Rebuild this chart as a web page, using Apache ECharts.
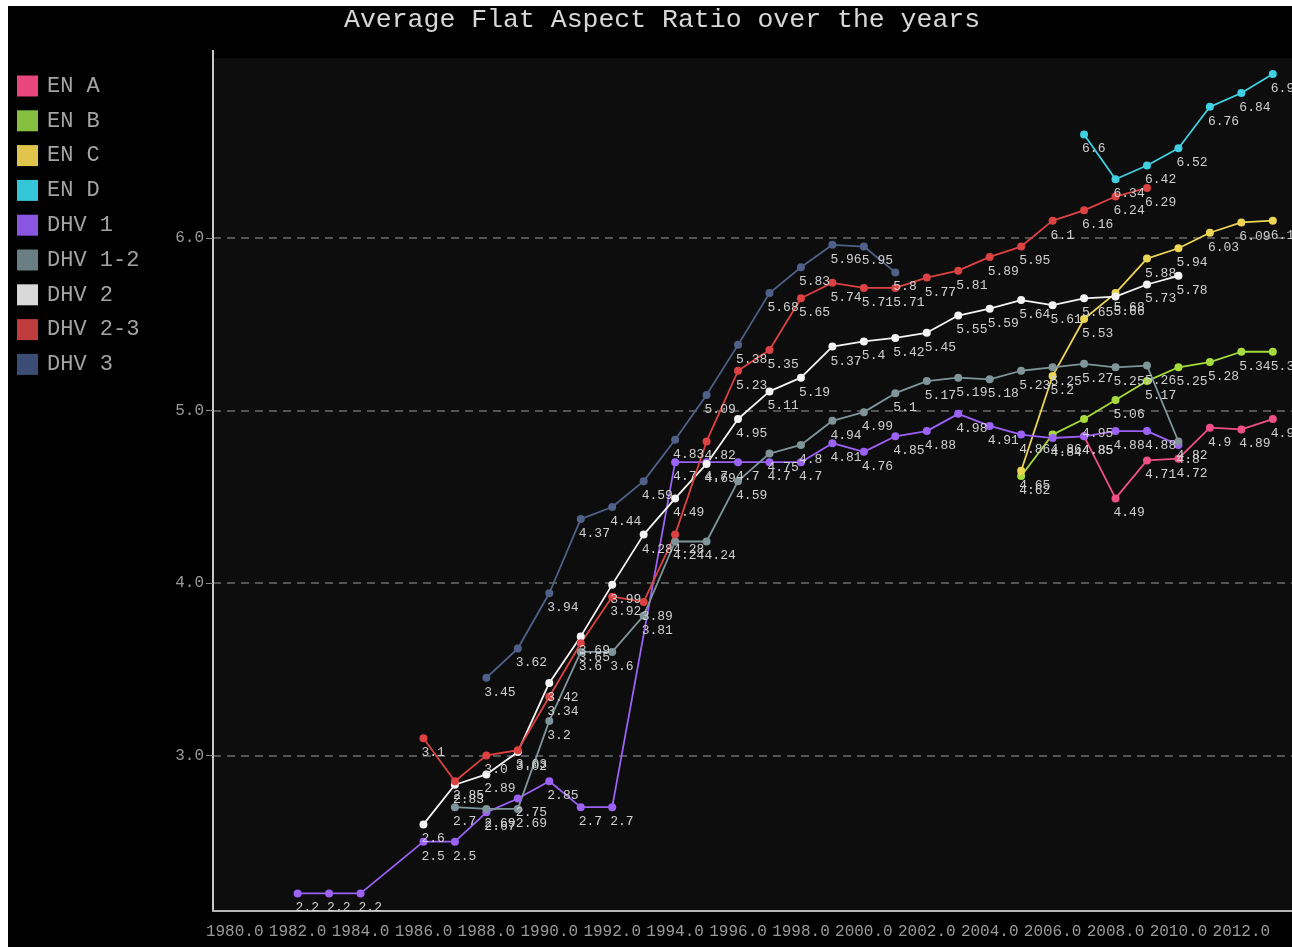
<!DOCTYPE html>
<html>
<head>
<meta charset="utf-8">
<script src="https://cdn.jsdelivr.net/npm/echarts@6/dist/echarts.min.js"></script>
<style>
  html, body { margin: 0; padding: 0; background: #ffffff; }
  #chart { position: absolute; left: 8px; top: 6px; width: 1284px; height: 941px; }
</style>
</head>
<body>
<div id="chart"></div>
<script>
// Average flat aspect ratio per certification class, by year
const titleText = 'Average Flat Aspect Ratio over the years';

const enAYears = [2007, 2008, 2009, 2010, 2011, 2012, 2013];
const enAValues = [4.85, 4.49, 4.71, 4.72, 4.9, 4.89, 4.95];

const enBYears = [2005, 2006, 2007, 2008, 2009, 2010, 2011, 2012, 2013];
const enBValues = [4.62, 4.86, 4.95, 5.06, 5.17, 5.25, 5.28, 5.34, 5.34];

const enCYears = [2005, 2006, 2007, 2008, 2009, 2010, 2011, 2012, 2013];
const enCValues = [4.65, 5.2, 5.53, 5.68, 5.88, 5.94, 6.03, 6.09, 6.1];

const enDYears = [2007, 2008, 2009, 2010, 2011, 2012, 2013];
const enDValues = [6.6, 6.34, 6.42, 6.52, 6.76, 6.84, 6.95];

const dhv1Years = [1982, 1983, 1984, 1986, 1987, 1988, 1989, 1990, 1991, 1992, 1994, 1995, 1996, 1997, 1998, 1999, 2000, 2001, 2002, 2003, 2004, 2005, 2006, 2007, 2008, 2009, 2010];
const dhv1Values = [2.2, 2.2, 2.2, 2.5, 2.5, 2.67, 2.75, 2.85, 2.7, 2.7, 4.7, 4.7, 4.7, 4.7, 4.7, 4.81, 4.76, 4.85, 4.88, 4.98, 4.91, 4.86, 4.84, 4.85, 4.88, 4.88, 4.8];

const dhv12Years = [1987, 1988, 1989, 1990, 1991, 1992, 1993, 1994, 1995, 1996, 1997, 1998, 1999, 2000, 2001, 2002, 2003, 2004, 2005, 2006, 2007, 2008, 2009, 2010];
const dhv12Values = [2.7, 2.69, 2.69, 3.2, 3.6, 3.6, 3.81, 4.24, 4.24, 4.59, 4.75, 4.8, 4.94, 4.99, 5.1, 5.17, 5.19, 5.18, 5.23, 5.25, 5.27, 5.25, 5.26, 4.82];

const dhv2Years = [1986, 1987, 1988, 1989, 1990, 1991, 1992, 1993, 1994, 1995, 1996, 1997, 1998, 1999, 2000, 2001, 2002, 2003, 2004, 2005, 2006, 2007, 2008, 2009, 2010];
const dhv2Values = [2.6, 2.83, 2.89, 3.02, 3.42, 3.69, 3.99, 4.28, 4.49, 4.69, 4.95, 5.11, 5.19, 5.37, 5.4, 5.42, 5.45, 5.55, 5.59, 5.64, 5.61, 5.65, 5.66, 5.73, 5.78];

const dhv23Years = [1986, 1987, 1988, 1989, 1990, 1991, 1992, 1993, 1994, 1995, 1996, 1997, 1998, 1999, 2000, 2001, 2002, 2003, 2004, 2005, 2006, 2007, 2008, 2009];
const dhv23Values = [3.1, 2.85, 3.0, 3.03, 3.34, 3.65, 3.92, 3.89, 4.28, 4.82, 5.23, 5.35, 5.65, 5.74, 5.71, 5.71, 5.77, 5.81, 5.89, 5.95, 6.1, 6.16, 6.24, 6.29];

const dhv3Years = [1988, 1989, 1990, 1991, 1992, 1993, 1994, 1995, 1996, 1997, 1998, 1999, 2000, 2001];
const dhv3Values = [3.45, 3.62, 3.94, 4.37, 4.44, 4.59, 4.83, 5.09, 5.38, 5.68, 5.83, 5.96, 5.95, 5.8];

const xTickYears = [1980, 1982, 1984, 1986, 1988, 1990, 1992, 1994, 1996, 1998, 2000, 2002, 2004, 2006, 2008, 2010, 2012];
const yTickValues = [3, 4, 5, 6];

const seriesList = [
  { name: 'EN A',    years: enAYears,   values: enAValues,   line: '#ee4f86', key: '#e8467c' },
  { name: 'EN B',    years: enBYears,   values: enBValues,   line: '#a5dc3c', key: '#86c040' },
  { name: 'EN C',    years: enCYears,   values: enCValues,   line: '#ecd552', key: '#e0c44c' },
  { name: 'EN D',    years: enDYears,   values: enDValues,   line: '#40d0e2', key: '#34c6d6' },
  { name: 'DHV 1',   years: dhv1Years,  values: dhv1Values,  line: '#9b62f5', key: '#8a55e0' },
  { name: 'DHV 1-2', years: dhv12Years, values: dhv12Values, line: '#7f9599', key: '#6a7f83' },
  { name: 'DHV 2',   years: dhv2Years,  values: dhv2Values,  line: '#f4f4f4', key: '#d8d8d8' },
  { name: 'DHV 2-3', years: dhv23Years, values: dhv23Values, line: '#dc4242', key: '#c03c3c' },
  { name: 'DHV 3',   years: dhv3Years,  values: dhv3Values,  line: '#4f6189', key: '#3b4d75' }
];

const monoFont = '"Liberation Mono", "DejaVu Sans Mono", monospace';

function fmtValue(v) {
  return Number.isInteger(v) ? v.toFixed(1) : String(v);
}

const chart = echarts.init(document.getElementById('chart'), null, { renderer: 'canvas' });

chart.setOption({
  animation: false,
  backgroundColor: '#000000',
  title: {
    text: titleText,
    left: 336,
    top: 0,
    padding: 0,
    textStyle: { color: '#d8d8d8', fontFamily: monoFont, fontSize: 26.5, fontWeight: 'normal' }
  },
  legend: {
    orient: 'vertical',
    left: 9,
    top: 69,
    padding: 0,
    itemWidth: 21,
    itemHeight: 21,
    itemGap: 12.8,
    icon: 'rect',
    selectedMode: false,
    textStyle: { color: '#a4a4a4', fontFamily: monoFont, fontSize: 22, lineHeight: 21, padding: [0, 0, 0, 4] },
    data: seriesList.map(s => ({ name: s.name, itemStyle: { color: s.key } }))
  },
  // short stub of the value axis above the plot frame
  graphic: [{
    type: 'line',
    shape: { x1: 205, y1: 44, x2: 205, y2: 52 },
    style: { stroke: '#c8c8c8', lineWidth: 2 }
  }],
  grid: {
    left: 205,
    right: 0,
    top: 52,
    bottom: 36.5,
    show: true,
    backgroundColor: '#0d0d0d',
    borderWidth: 0
  },
  xAxis: {
    type: 'value',
    min: 1979.31,
    max: 2013.61,
    axisLine: { show: true, lineStyle: { color: '#b4b4b4', width: 2 } },
    axisTick: { show: false, customValues: xTickYears },
    splitLine: { show: false },
    axisLabel: {
      customValues: xTickYears,
      formatter: v => v.toFixed(1),
      color: '#9a9a9a',
      fontFamily: monoFont,
      fontSize: 16,
      margin: 13
    }
  },
  yAxis: {
    type: 'value',
    min: 2.101,
    max: 7.043,
    axisLine: { show: true, lineStyle: { color: '#c8c8c8', width: 2 } },
    axisTick: { show: true, customValues: yTickValues, length: 7, lineStyle: { color: '#888' } },
    splitLine: { show: true, lineStyle: { color: '#6c6c6c', type: [8, 6], width: 1.5 } },
    axisLabel: {
      customValues: yTickValues,
      formatter: v => v.toFixed(1),
      color: '#9a9a9a',
      fontFamily: monoFont,
      fontSize: 16,
      margin: 9
    }
  },
  series: seriesList.map(s => ({
    name: s.name,
    type: 'line',
    data: s.years.map((y, i) => [y, s.values[i]]),
    color: s.line,
    symbol: 'circle',
    symbolSize: 8,
    showSymbol: true,
    lineStyle: { width: 1.8, color: s.line },
    itemStyle: { color: s.line },
    label: {
      show: true,
      position: [2, 12],
      align: 'left',
      verticalAlign: 'top',
      color: '#cfcfcf',
      fontFamily: monoFont,
      fontSize: 13,
      formatter: p => fmtValue(p.value[1])
    }
  }))
});
</script>
</body>
</html>
